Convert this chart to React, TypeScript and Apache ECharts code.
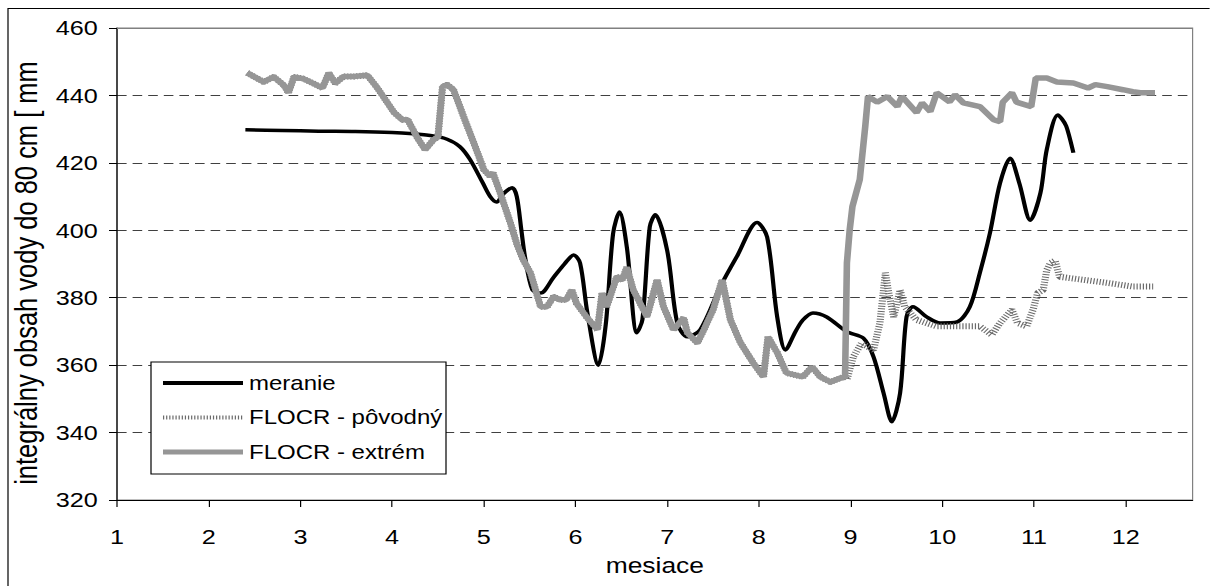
import React, { useEffect, useRef } from "react";
import * as echarts from "echarts";

// horizontal stretch of the reference picture
const S = 1.2;
const W = 1210;
const H = 586;

const xTickValues = [1, 2, 3, 4, 5, 6, 7, 8, 9, 10, 11, 12];

const meranieX = [2.4, 2.8, 3.2, 3.6, 4.0, 4.23, 4.45, 4.6, 4.74, 4.85, 4.99, 5.07, 5.14, 5.22, 5.31, 5.36, 5.41, 5.45, 5.53, 5.62, 5.76, 5.88, 5.98, 6.05, 6.13, 6.25, 6.33, 6.41, 6.48, 6.56, 6.67, 6.73, 6.81, 6.87, 7.0, 7.11, 7.22, 7.36, 7.58, 7.76, 7.98, 8.09, 8.2, 8.29, 8.4, 8.48, 8.59, 8.74, 8.96, 9.14, 9.25, 9.36, 9.45, 9.54, 9.61, 9.68, 9.83, 9.98, 10.16, 10.3, 10.41, 10.52, 10.63, 10.74, 10.84, 10.96, 11.07, 11.14, 11.26, 11.35, 11.43];
const meranieY = [429.8, 429.6, 429.4, 429.3, 429.0, 428.6, 428.0, 427.0, 424.8, 421, 414, 410, 408.4, 411, 412.6, 410, 400, 392, 382.3, 381.4, 386, 390, 392.7, 390.3, 375.5, 360, 372, 399, 405.4, 395, 369.6, 373.5, 401, 404.6, 394, 372.5, 368.4, 370.5, 383.3, 392.2, 402.3, 398, 374.3, 364.5, 370, 373.4, 375.5, 374.3, 369.9, 368, 362.5, 351.7, 343.2, 351.7, 374.3, 377.3, 374.3, 372.5, 372.8, 377.3, 387.4, 399.2, 414, 421.4, 414, 403, 411, 424, 434.2, 431, 423];

// part common to both FLOCR runs (they overlap until ~8.94)
const spolocneX = [2.42, 2.6, 2.71, 2.82, 2.87, 2.93, 3.03, 3.14, 3.24, 3.31, 3.38, 3.47, 3.58, 3.73, 3.84, 3.95, 4.02, 4.11, 4.17, 4.27, 4.36, 4.45, 4.5, 4.55, 4.6, 4.67, 4.78, 4.89, 5.0, 5.07, 5.1, 5.18, 5.29, 5.36, 5.43, 5.51, 5.62, 5.69, 5.76, 5.83, 5.9, 5.96, 6.01, 6.12, 6.24, 6.29, 6.34, 6.45, 6.51, 6.56, 6.63, 6.78, 6.89, 6.96, 7.07, 7.18, 7.22, 7.33, 7.4, 7.5, 7.6, 7.69, 7.8, 7.94, 8.05, 8.1, 8.2, 8.3, 8.48, 8.58, 8.67, 8.78, 8.89, 8.94];
const spolocneY = [446.7, 444, 445.5, 443, 440.8, 445.5, 445, 443.6, 442.2, 446.7, 443.6, 445.6, 445.6, 446, 442.2, 437.8, 435, 432.8, 432.8, 427.7, 423.9, 426.8, 427.7, 442.6, 443.2, 441.7, 433.7, 426, 418, 416, 417, 411, 402.2, 396, 391.2, 387.3, 377.3, 377.3, 380.3, 379.4, 379.4, 382.3, 378.4, 374.3, 370.5, 381.4, 377.3, 386.2, 385.3, 389, 382.3, 374.4, 385.3, 377.3, 370.5, 374, 369.6, 366.6, 370.5, 376.4, 385.3, 373.4, 366.6, 360.6, 356.5, 368.4, 363.7, 357.7, 356.5, 359.5, 356.5, 355, 356.2, 356.5];

const extremX = [8.96, 8.99, 9.02, 9.1, 9.16, 9.19, 9.29, 9.4, 9.51, 9.56, 9.72, 9.78, 9.87, 9.94, 10.08, 10.14, 10.23, 10.41, 10.56, 10.63, 10.66, 10.76, 10.81, 10.97, 11.02, 11.14, 11.25, 11.43, 11.59, 11.67, 11.8, 11.97, 12.08, 12.16, 12.32];
const extremY = [390.3, 400, 407, 415, 430.8, 439.7, 438, 439.7, 436.7, 439.7, 434.9, 437.8, 435.2, 440.8, 438.1, 440.2, 437.8, 436.7, 432.8, 432.2, 438, 440.8, 438, 436.7, 445.2, 445.2, 444, 443.7, 442.2, 443.2, 442.6, 441.7, 441.1, 440.8, 440.8];

const povodnyX = [8.96, 9.03, 9.12, 9.25, 9.32, 9.38, 9.41, 9.47, 9.54, 9.59, 9.72, 9.94, 10.19, 10.41, 10.54, 10.63, 10.76, 10.82, 10.92, 10.99, 11.04, 11.1, 11.14, 11.18, 11.23, 11.28, 11.54, 11.8, 12.08, 12.3];
const povodnyY = [355.7, 362.5, 366.5, 364.5, 372.5, 387.4, 382.3, 374.3, 382.3, 377.3, 373.4, 371.5, 371.5, 371.5, 369, 372.5, 376.4, 372.5, 371.5, 376.4, 381.4, 382.3, 388.2, 390.3, 391, 386.2, 385.3, 384.4, 383.3, 383.3];

const seriesNames = ["meranie", "FLOCR - pôvodný", "FLOCR - extrém"];

const zip = (xs: number[], ys: number[]) => xs.map((x, i) => [x, ys[i]]);

const FONT = "'Liberation Sans', Arial, sans-serif";

const meranieLine = { color: "#000", width: 3.5 };
const povodnyLine = { color: "#6a6a6a", width: 6, type: [1, 1.6] };
const extremLine = { color: "#969696", width: 5.5 };

export default function App() {
  const ref = useRef<HTMLDivElement>(null);

  useEffect(() => {
    document.body.style.margin = "0";
    const chart = echarts.init(ref.current!, null, { renderer: "svg" });

    const gridLeft = 117 / S;
    const gridRight = 17 / S;
    const gridTop = 28;
    const gridBottom = 86;
    const plotRight = 1193 / S;

    const option: any = {
      animation: false,
      backgroundColor: "#fff",
      grid: {
        left: gridLeft,
        right: gridRight,
        top: gridTop,
        bottom: gridBottom,
        show: true,
        borderColor: "#808080",
        borderWidth: 1,
        backgroundColor: "transparent",
      },
      xAxis: {
        type: "value",
        min: 1,
        max: 12.73,
        interval: 1,
        name: "mesiace",
        nameLocation: "middle",
        nameGap: 54,
        nameTextStyle: { fontSize: 22, color: "#000", fontFamily: FONT },
        axisLine: { show: true, onZero: false, lineStyle: { color: "#000", width: 1 } },
        axisTick: { show: true, length: 7, customValues: xTickValues, lineStyle: { color: "#000" } },
        axisLabel: {
          customValues: xTickValues,
          margin: 26,
          fontSize: 21,
          color: "#000",
          fontFamily: FONT,
        },
        splitLine: { show: false },
      },
      yAxis: {
        type: "value",
        min: 320,
        max: 460,
        interval: 20,
        name: "integrálny obsah vody do 80 cm [ mm",
        nameLocation: "middle",
        nameGap: 62,
        nameTextStyle: { fontSize: 25.5, color: "#000", fontFamily: FONT, padding: [0, 18, 0, 0] },
        axisLine: { show: true, lineStyle: { color: "#000", width: 1 } },
        axisTick: { show: true, length: 8 / S, lineStyle: { color: "#000" } },
        axisLabel: { margin: 16, fontSize: 21, color: "#000", fontFamily: FONT },
        splitLine: { show: true, lineStyle: { color: "#404040", width: 1, type: [8, 5] } },
      },
      legend: {
        orient: "vertical",
        left: 160 / S,
        top: 373,
        padding: 0,
        itemWidth: 80 / S,
        itemHeight: 20,
        itemGap: 14.5,
        z: 10,
        itemStyle: { opacity: 0 },
        data: [
          { name: seriesNames[0], itemStyle: { opacity: 0 }, lineStyle: { ...meranieLine, width: 4 } },
          { name: seriesNames[1], itemStyle: { opacity: 0 }, lineStyle: { ...povodnyLine, width: 4 } },
          { name: seriesNames[2], itemStyle: { opacity: 0 }, lineStyle: { ...extremLine, width: 5 } },
        ],
        textStyle: { fontSize: 20, color: "#000", fontFamily: FONT },
      },
      graphic: [
        {
          type: "rect",
          z: 1,
          silent: true,
          shape: { x: 8 / S, y: 8.5, width: W, height: H },
          style: { fill: "none", stroke: "#000", lineWidth: 1 },
        },
        {
          type: "line",
          z: 100,
          silent: true,
          shape: { x1: gridLeft, y1: gridTop + 0.5, x2: plotRight, y2: gridTop + 0.5 },
          style: { stroke: "#808080", lineWidth: 1 },
        },
        {
          type: "rect",
          z: 9,
          silent: true,
          shape: { x: 151 / S, y: 362, width: 295 / S, height: 112 },
          style: { fill: "#fff", stroke: "#000", lineWidth: 1 },
        },
      ],
      series: [
        {
          name: seriesNames[0],
          type: "line",
          data: zip(meranieX, meranieY),
          symbol: "none",
          smooth: 0.3,
          z: 2,
          lineStyle: meranieLine,
          itemStyle: { color: "#000" },
        },
        {
          name: seriesNames[1],
          type: "line",
          data: zip(spolocneX.concat(povodnyX), spolocneY.concat(povodnyY)),
          symbol: "none",
          z: 3,
          lineStyle: povodnyLine,
          itemStyle: { color: "#888" },
        },
        {
          name: seriesNames[2],
          type: "line",
          data: zip(spolocneX.concat(extremX), spolocneY.concat(extremY)),
          symbol: "none",
          z: 4,
          lineStyle: extremLine,
          itemStyle: { color: "#969696" },
        },
      ],
    };

    chart.setOption(option);
    return () => chart.dispose();
  }, []);

  return (
    <div
      ref={ref}
      style={{
        width: W / S,
        height: H,
        transform: `scaleX(${S})`,
        transformOrigin: "0 0",
      }}
    />
  );
}
